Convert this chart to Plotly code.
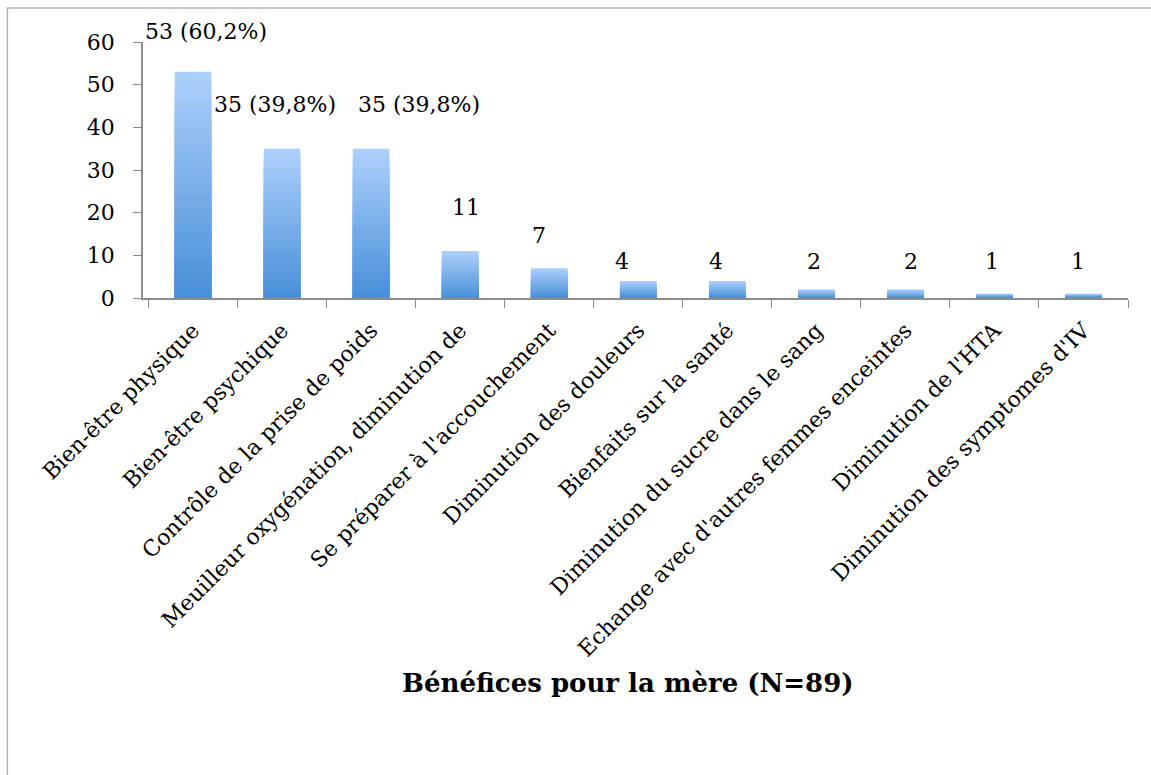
import plotly.graph_objects as go

categories = [
    "Bien-être physique",
    "Bien-être psychique",
    "Contrôle de la prise de poids",
    "Meuilleur oxygénation, diminution de",
    "Se préparer à l'accouchement",
    "Diminution des douleurs",
    "Bienfaits sur la santé",
    "Diminution du sucre dans le sang",
    "Echange avec d'autres femmes enceintes",
    "Diminution de l'HTA",
    "Diminution des symptomes d'IV",
]
counts = [53, 35, 35, 11, 7, 4, 4, 2, 2, 1, 1]
label_texts = ["53 (60,2%)", "35 (39,8%)", "35 (39,8%)", "11", "7", "4", "4", "2", "2", "1", "1"]
y_ticks = [0, 10, 20, 30, 40, 50, 60]

# label offsets in pixels (x, y above bar top)
label_dx = [13, -7, 48, 6, -10, -16, -11, -2, 6, -2, -5]
label_dy = [40, 44, 44, 44, 33, 19, 19, 28, 28, 32, 32]

FONT = "DejaVu Serif"
top_rgb = (171, 207, 251)
bot_rgb = (74, 144, 216)
n_layers = 24

fig = go.Figure()
# gradient fill: stack of overlaid bars, lighter at top, darker toward the base
for i in range(n_layers):
    f = 1 - i / n_layers
    t = i / (n_layers - 1)
    c = tuple(round(a + (b - a) * t) for a, b in zip(top_rgb, bot_rgb))
    fig.add_trace(go.Bar(
        x=categories, y=[v * f for v in counts],
        marker=dict(color="rgb(%d,%d,%d)" % c, line=dict(width=0)),
        hoverinfo="skip" if i else "x+y", showlegend=False,
    ))

for cat, v, txt, dx, dy in zip(categories, counts, label_texts, label_dx, label_dy):
    fig.add_annotation(x=cat, y=v, text=txt, showarrow=False, xshift=dx, yshift=dy,
                       yanchor="middle", font=dict(family=FONT, size=22, color="black"))

fig.add_annotation(text="<b>Bénéfices pour la mère (N=89)</b>", xref="paper", yref="paper",
                   x=0.4924, y=-1.504, showarrow=False, yanchor="middle",
                   font=dict(family=FONT, size=26, color="black"))

# outer chart border (cropped at right and bottom)
fig.add_shape(type="rect", xref="paper", yref="paper", x0=-0.1377, x1=1.2, y0=-2.5, y1=1.1328,
              line=dict(color="#b3b3b3", width=1.5), fillcolor="rgba(0,0,0,0)", layer="below")

fig.update_layout(
    width=1151, height=775,
    margin=dict(l=143, r=23, t=42, b=477),
    barmode="overlay", bargap=0.59,
    plot_bgcolor="white", paper_bgcolor="white",
    font=dict(family=FONT, size=19, color="black"),
)
fig.update_xaxes(
    tickangle=-45, tickson="boundaries", ticks="outside", ticklen=8, tickcolor="#8c8c8c",
    showline=True, linecolor="#8c8c8c", linewidth=1.5, showgrid=False, automargin=False,
    ticklabelstandoff=9, tickfont=dict(family=FONT, size=22, color="black"),
)
fig.update_yaxes(
    range=[0, 60], tickvals=y_ticks, ticks="outside", ticklen=8, tickcolor="#8c8c8c",
    showline=True, linecolor="#8c8c8c", linewidth=1.5, showgrid=False, zeroline=False,
    automargin=False, ticklabelstandoff=14, tickfont=dict(family=FONT, size=22, color="black"),
)

fig.write_html("out.html", config={"displayModeBar": False},
               post_script="document.body.style.margin='0';")
